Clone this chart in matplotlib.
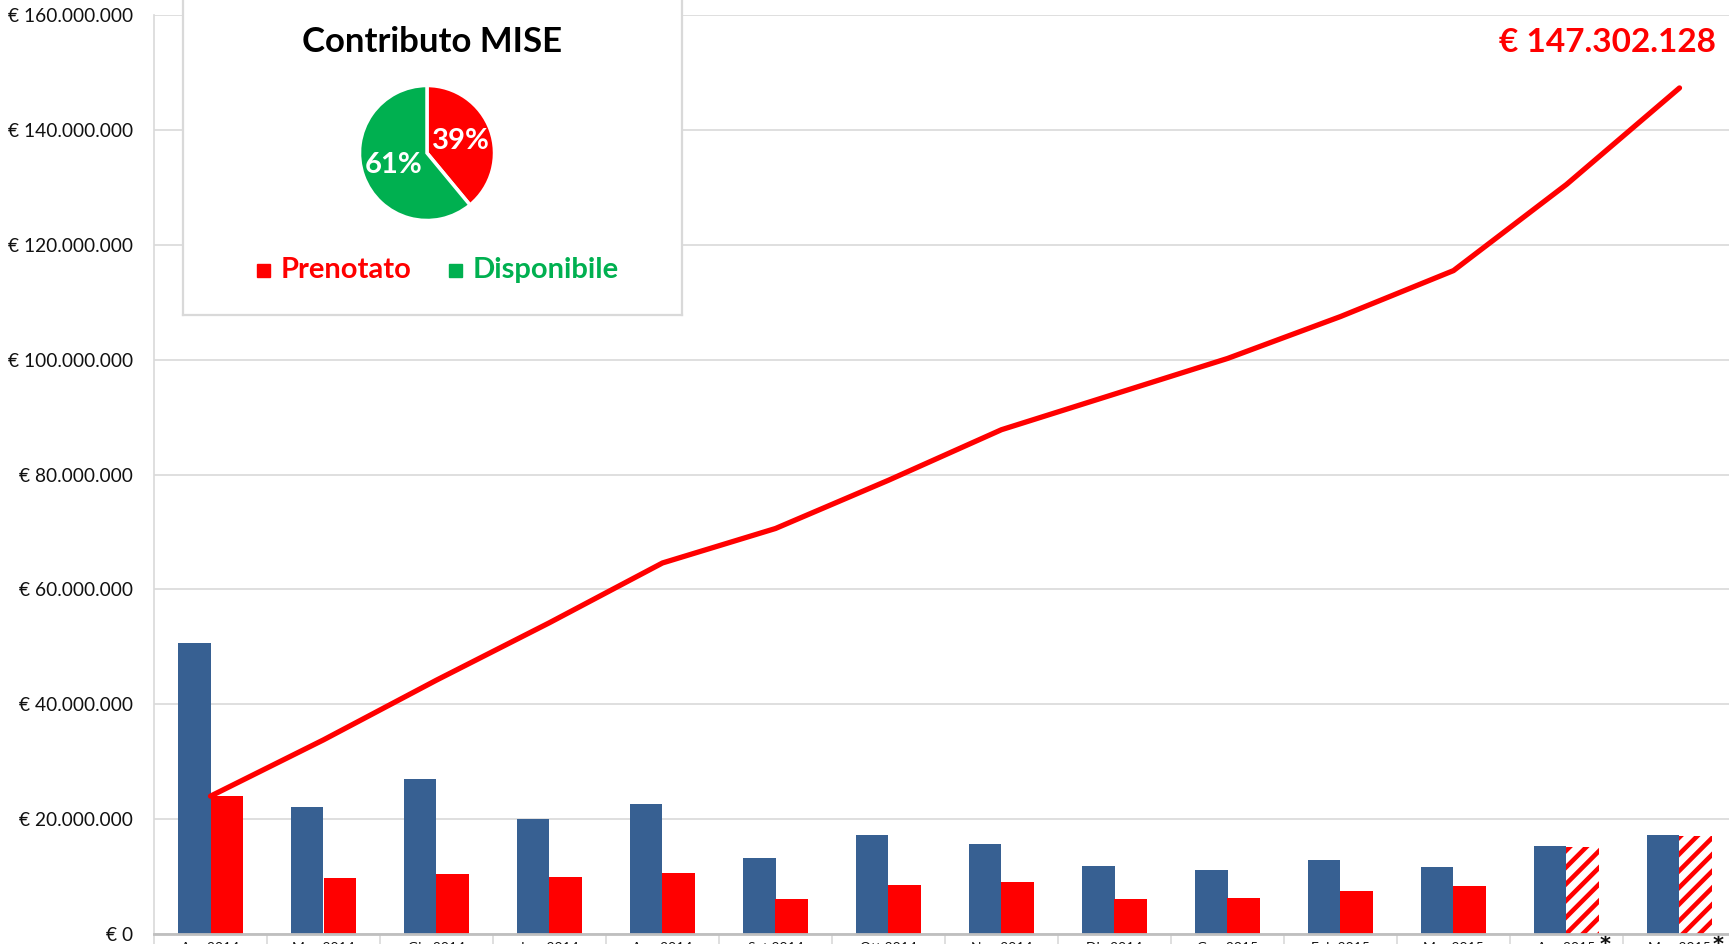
import numpy as np
import matplotlib
matplotlib.use('Agg')
import matplotlib.pyplot as plt
from matplotlib.patches import Rectangle
from matplotlib.ticker import FuncFormatter, FixedLocator
import matplotlib.transforms as mtransforms

plt.rcParams['font.family'] = ['Lato', 'DejaVu Sans']
plt.rcParams['hatch.linewidth'] = 3.3

# ---------------- data (milioni di €) ----------------
months = ["Apr 2014", "Mag 2014", "Giu 2014", "Lug 2014", "Ago 2014", "Set 2014",
          "Ott 2014", "Nov 2014", "Dic 2014", "Gen 2015", "Feb 2015", "Mar 2015",
          "Apr 2015", "Mag 2015"]
forecast = [False] * 12 + [True, True]
totale = [50.7, 22.1, 26.9, 20.0, 22.7, 13.3, 17.3, 15.6, 11.9, 11.1, 12.9, 11.7, 15.4, 17.3]
prenotato = [24.0, 9.8, 10.4, 10.0, 10.6, 6.1, 8.5, 9.0, 6.1, 6.3, 7.5, 8.3, 15.2, 17.1]
cumulato = [24.0, 33.8, 44.2, 54.2, 64.6, 70.6, 79.0, 87.8, 94.0, 100.2, 107.5, 115.5, 130.5, 147.3]
pie_labels = ["Prenotato", "Disponibile"]
pie_values = [39, 61]
pie_title = "Contributo MISE"
total_label = "€ 147.302.128"

BLUE = '#376092'
RED = '#FF0000'
GREEN = '#00B050'
GRID = '#D9D9D9'

W, H = 1729, 944
fig = plt.figure(figsize=(W / 100, H / 100), dpi=100)


def fx(px):
    return px / W


def fy(py):
    return 1 - py / H


# ---------------- main axes ----------------
ax = fig.add_axes([fx(154), fy(934), (1736 - 154) / W, (934 - 15) / H])
x = np.arange(len(months))
bw = 0.29
ax.bar(x - bw / 2, totale, bw, color=BLUE, zorder=2)
for xi, v, fc in zip(x, prenotato, forecast):
    if fc:
        ax.bar(xi + bw / 2, v, bw, facecolor='white', edgecolor=RED, hatch='//',
               linewidth=0, zorder=2)
    else:
        ax.bar(xi + bw / 2, v, bw, color=RED, zorder=2)
ax.plot(x, cumulato, color=RED, lw=3.8, solid_capstyle='round', zorder=3)

ax.set_xlim(-0.5, len(months) - 0.5)
ax.set_ylim(0, 160)
ax.set_yticks(np.arange(0, 161, 20))


def eur(v, pos=None):
    if v == 0:
        return "€ 0"
    return "€ " + f"{v * 1e6:,.0f}".replace(",", ".")


ax.yaxis.set_major_formatter(FuncFormatter(eur))
ax.tick_params(axis='y', length=0, pad=15, labelsize=13.8, labelcolor='#111111')
ax.grid(axis='y', color=GRID, lw=1.2, zorder=0)
ax.set_axisbelow(True)
for s in ['top', 'right']:
    ax.spines[s].set_visible(False)
ax.spines['left'].set_color(GRID)
ax.spines['left'].set_linewidth(1.2)
ax.spines['bottom'].set_color('#BFBFBF')
ax.spines['bottom'].set_linewidth(2)
ax.spines['bottom'].set_zorder(4)

ax.xaxis.set_major_locator(FixedLocator(np.arange(-0.5, len(months), 1)))
ax.set_xticklabels([])
ax.tick_params(axis='x', length=12, width=1.2, color=GRID)

trans = mtransforms.blended_transform_factory(ax.transData, ax.transAxes)
for xi, lab, fc in zip(x, months, forecast):
    ax.annotate(lab, xy=(xi, 0), xycoords=trans, xytext=(0, -5.5),
                textcoords='offset points', ha='center', va='top', fontsize=10,
                color='#111111', annotation_clip=False)
    if fc:
        ax.annotate("*", xy=(xi, 0), xycoords=trans, xytext=(27.5, -0.5),
                    textcoords='offset points', ha='center', va='top', fontsize=15,
                    fontweight='bold', family='DejaVu Sans', color='#111111',
                    annotation_clip=False)

fig.text(fx(1716), fy(42), total_label, ha='right', va='center', fontsize=24,
         fontweight='bold', color=RED)

# ---------------- inset box with pie ----------------
box = fig.add_axes([fx(183), fy(315), (682 - 183) / W, (315 + 3) / H], zorder=5)
box.set_xlim(183, 682)
box.set_ylim(315, -3)
box.set_xticks([])
box.set_yticks([])
box.set_facecolor('white')
for s in box.spines.values():
    s.set_color(GRID)
    s.set_linewidth(1.6)
box.text(432, 42, pie_title, ha='center', va='center', fontsize=25, fontweight='bold',
         color='black')
box.add_patch(Rectangle((257, 264), 13, 13, color=RED))
box.text(281, 270, pie_labels[0], ha='left', va='center', fontsize=21, fontweight='bold',
         color=RED)
box.add_patch(Rectangle((449, 264), 13, 13, color=GREEN))
box.text(473, 270, pie_labels[1], ha='left', va='center', fontsize=21, fontweight='bold',
         color=GREEN)

R = 67.5
half = 71
pax = fig.add_axes([fx(427 - half), fy(153 + half), 2 * half / W, 2 * half / H], zorder=6)
pax.pie(pie_values, colors=[RED, GREEN], startangle=90, counterclock=False,
        autopct='%d%%', pctdistance=0.53,
        textprops=dict(color='white', fontsize=21, fontweight='bold'),
        wedgeprops=dict(edgecolor='white', linewidth=2.5))
pax.set_xlim(-half / R, half / R)
pax.set_ylim(-half / R, half / R)
pax.set_aspect('equal')
pax.patch.set_alpha(0)

fig.savefig('out.png', dpi=100)
